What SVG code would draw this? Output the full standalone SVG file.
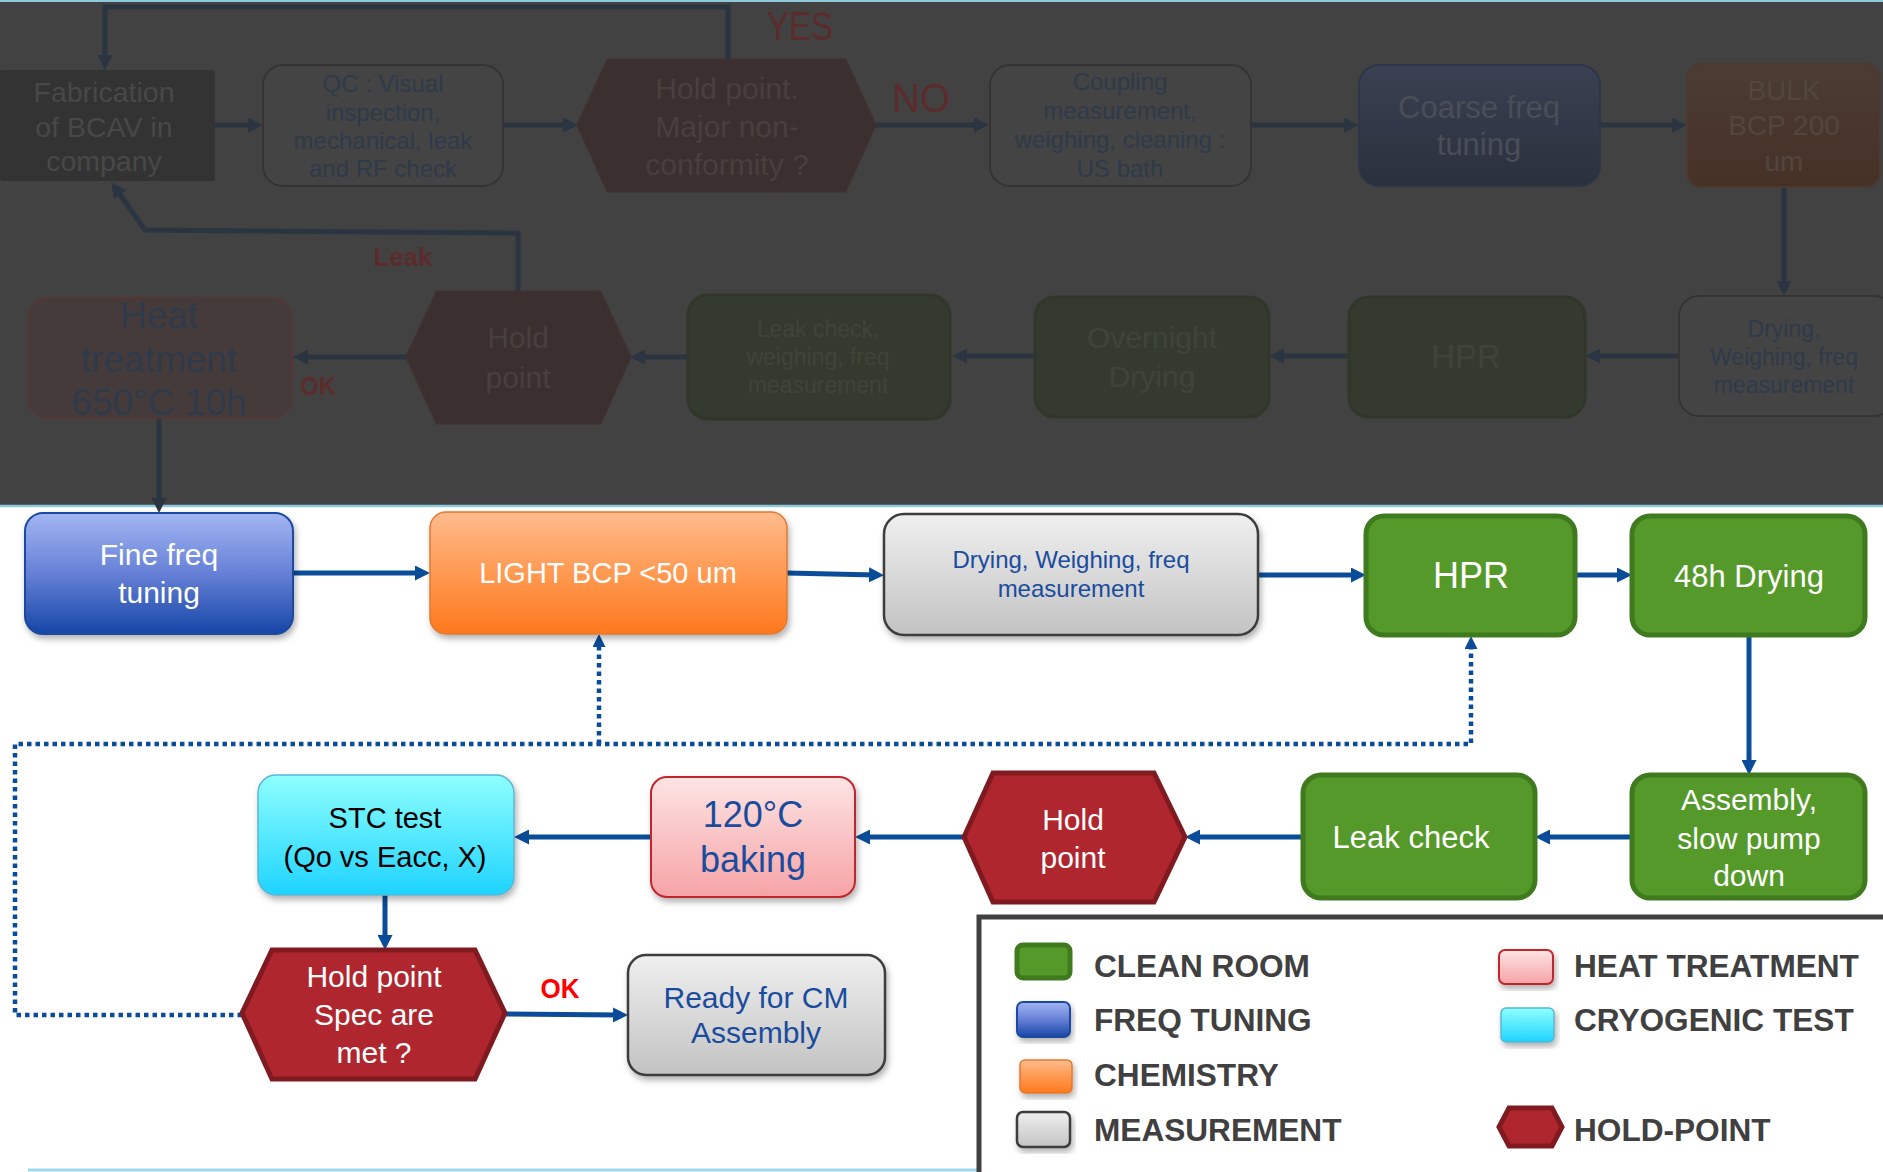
<svg xmlns="http://www.w3.org/2000/svg" width="1883" height="1172" viewBox="0 0 1883 1172">
<defs>
<style>
text{font-family:"Liberation Sans",Arial,sans-serif;text-anchor:middle}
.w{fill:#ffffff}
.db{fill:#1a4c9e}
.conn{fill:none;stroke:#0b4c99;stroke-width:5}
.dot{fill:none;stroke:#0b4c99;stroke-width:4.5;stroke-dasharray:4.5 4}
.tconn{fill:none;stroke:#2b3542;stroke-width:5}
.green{fill:#55992a;stroke:#3f7a1f;stroke-width:5}
.hex{fill:#b0262f;stroke:#801a21;stroke-width:5}
.gray{fill:url(#gGray);stroke:#3c3c3c;stroke-width:2.5}
.lg{font-weight:bold;font-size:31.6px;fill:#404040;text-anchor:start}
.tq{fill:#444444;stroke:#343434;stroke-width:2}
.tqt{fill:#2f3a4a}
.tgr{fill:#343b2e;stroke:#30372a;stroke-width:3}
.tgrt{fill:#3e4538}
.thex{fill:#3b2f2f;stroke:#3e3030;stroke-width:3}
.thext{fill:#4a3f3f}
.tred{fill:#5c2b2b}
</style>
<linearGradient id="gBlue" x1="0" y1="0" x2="0" y2="1"><stop offset="0" stop-color="#a3b6f3"/><stop offset="0.5" stop-color="#6680d6"/><stop offset="1" stop-color="#1546a6"/></linearGradient>
<linearGradient id="gOrange" x1="0" y1="0" x2="0" y2="1"><stop offset="0" stop-color="#ffbb8e"/><stop offset="0.45" stop-color="#ff9d58"/><stop offset="1" stop-color="#ff781d"/></linearGradient>
<linearGradient id="gGray" x1="0" y1="0" x2="0" y2="1"><stop offset="0" stop-color="#efefef"/><stop offset="1" stop-color="#c3c3c3"/></linearGradient>
<linearGradient id="gPink" x1="0" y1="0" x2="0" y2="1"><stop offset="0" stop-color="#fde4e4"/><stop offset="1" stop-color="#f6a3a6"/></linearGradient>
<linearGradient id="gCyan" x1="0" y1="0" x2="0" y2="1"><stop offset="0" stop-color="#8fffff"/><stop offset="1" stop-color="#1ed3ff"/></linearGradient>
<linearGradient id="gCoarse" x1="0" y1="0" x2="0" y2="1"><stop offset="0" stop-color="#3a4152"/><stop offset="1" stop-color="#2b303d"/></linearGradient>
<linearGradient id="gBulk" x1="0" y1="0" x2="0" y2="1"><stop offset="0" stop-color="#4b3c33"/><stop offset="1" stop-color="#463126"/></linearGradient>
<filter id="sh" x="-10%" y="-10%" width="120%" height="130%"><feDropShadow dx="2" dy="4" stdDeviation="3" flood-color="#000" flood-opacity="0.3"/></filter>
<marker id="ah" viewBox="0 0 15 15" markerWidth="15" markerHeight="15" refX="7" refY="7.5" orient="auto" markerUnits="userSpaceOnUse"><path d="M0,0 L15,7.5 L0,15 z" fill="#0b4c99"/></marker>
<marker id="ahs" viewBox="0 0 13 13" markerWidth="13" markerHeight="13" refX="6" refY="6.5" orient="auto" markerUnits="userSpaceOnUse"><path d="M0,0 L13,6.5 L0,13 z" fill="#0b4c99"/></marker>
<marker id="aht" viewBox="0 0 15 15" markerWidth="15" markerHeight="15" refX="7" refY="7.5" orient="auto" markerUnits="userSpaceOnUse"><path d="M0,0 L15,7.5 L0,15 z" fill="#2b3542"/></marker>
</defs>
<rect x="0" y="0" width="1883" height="1172" fill="#ffffff"/>

<!-- faded upper part -->
<g id="faded-section">
<rect x="0" y="0" width="1883" height="505" fill="#424242"/>
<line x1="0" y1="1" x2="1883" y2="1" stroke="#8ec9dc" stroke-width="2"/>
<line x1="0" y1="506" x2="1883" y2="506" stroke="#8ec9dc" stroke-width="2.5"/>

<g id="t-connectors">
<path class="tconn" d="M215,125 L255,125" marker-end="url(#aht)"/>
<path class="tconn" d="M503,125 L570,125" marker-end="url(#aht)"/>
<path class="tconn" d="M875,125 L981,125" marker-end="url(#aht)"/>
<path class="tconn" d="M1251,125 L1351,125" marker-end="url(#aht)"/>
<path class="tconn" d="M1600,125 L1679,125" marker-end="url(#aht)"/>
<path class="tconn" d="M1784,187 L1784,288" marker-end="url(#aht)"/>
<path class="tconn" d="M1679,356 L1593,356" marker-end="url(#aht)"/>
<path class="tconn" d="M1349,356 L1277,356" marker-end="url(#aht)"/>
<path class="tconn" d="M1035,356 L960,356" marker-end="url(#aht)"/>
<path class="tconn" d="M688,357 L638,357" marker-end="url(#aht)"/>
<path class="tconn" d="M407,357 L301,357" marker-end="url(#aht)"/>
<path class="tconn" d="M159,418 L159,505" marker-end="url(#aht)"/>
<path class="tconn" d="M728,60 L728,7 L105,7 L105,62" marker-end="url(#aht)"/>
<path class="tconn" d="M518,292 L518,233 L145,230 L116,189" marker-end="url(#aht)"/>
<text class="tred" x="800" y="40" font-size="40" textLength="66" lengthAdjust="spacingAndGlyphs">YES</text>
<text class="tred" x="921" y="112" font-size="40" textLength="58" lengthAdjust="spacingAndGlyphs">NO</text>
<text class="tred" x="403" y="266" font-size="26" font-weight="bold" textLength="59" lengthAdjust="spacingAndGlyphs">Leak</text>
<text class="tred" x="318" y="395" font-size="26" font-weight="bold" textLength="36" lengthAdjust="spacingAndGlyphs">OK</text>
</g>

<g id="t-fabrication">
<rect x="0" y="70" width="215" height="111" rx="3" fill="#333333"/>
<text x="104" font-size="28.5" fill="#484848"><tspan x="104" y="102">Fabrication</tspan><tspan x="104" y="137">of BCAV in</tspan><tspan x="104" y="171">company</tspan></text>
</g>
<g id="t-qc">
<rect class="tq" x="263" y="65" width="240" height="121" rx="20"/>
<text class="tqt" font-size="24"><tspan x="383" y="92">QC : Visual</tspan><tspan x="383" y="121">inspection,</tspan><tspan x="383" y="149">mechanical, leak</tspan><tspan x="383" y="177">and RF check</tspan></text>
</g>
<g id="t-hold1">
<polygon class="thex" points="578,125 608,60 845,60 875,125 845,191 608,191"/>
<text class="thext" font-size="30"><tspan x="727" y="99">Hold point.</tspan><tspan x="727" y="137">Major non-</tspan><tspan x="727" y="175">conformity ?</tspan></text>
</g>
<g id="t-coupling">
<rect class="tq" x="990" y="65" width="261" height="121" rx="20"/>
<text class="tqt" font-size="24"><tspan x="1120" y="90">Coupling</tspan><tspan x="1120" y="119">measurement,</tspan><tspan x="1120" y="148">weighing, cleaning :</tspan><tspan x="1120" y="177">US bath</tspan></text>
</g>
<g id="t-coarse">
<rect x="1359" y="65" width="241" height="121" rx="20" fill="url(#gCoarse)" stroke="#2e3546" stroke-width="2"/>
<text font-size="31" fill="#4a4e58"><tspan x="1479" y="118">Coarse freq</tspan><tspan x="1479" y="155">tuning</tspan></text>
</g>
<g id="t-bulk">
<rect x="1687" y="64" width="193" height="123" rx="14" fill="url(#gBulk)" stroke="#4a3a30" stroke-width="2"/>
<text font-size="28" fill="#52463e"><tspan x="1784" y="100">BULK</tspan><tspan x="1784" y="135">BCP 200</tspan><tspan x="1784" y="171">um</tspan></text>
</g>
<g id="t-drying">
<rect class="tq" x="1679" y="296" width="215" height="120" rx="20"/>
<text class="tqt" font-size="23"><tspan x="1784" y="337">Drying,</tspan><tspan x="1784" y="365">Weighing, freq</tspan><tspan x="1784" y="393">measurement</tspan></text>
</g>
<g id="t-hpr">
<rect class="tgr" x="1349" y="297" width="236" height="120" rx="20"/>
<text class="tgrt" x="1466" y="368" font-size="33">HPR</text>
</g>
<g id="t-overnight">
<rect class="tgr" x="1035" y="297" width="234" height="120" rx="20"/>
<text class="tgrt" font-size="30"><tspan x="1152" y="348">Overnight</tspan><tspan x="1152" y="387">Drying</tspan></text>
</g>
<g id="t-leakcheck">
<rect class="tgr" x="688" y="295" width="262" height="124" rx="20"/>
<text class="tgrt" font-size="23"><tspan x="818" y="337">Leak check,</tspan><tspan x="818" y="365">weighing, freq</tspan><tspan x="818" y="393">measurement</tspan></text>
</g>
<g id="t-hold2">
<polygon class="thex" points="407,357 437,292 600,292 630,357 600,423 437,423"/>
<text class="thext" font-size="30"><tspan x="518" y="348">Hold</tspan><tspan x="518" y="388">point</tspan></text>
</g>
<g id="t-heat">
<rect x="28" y="298" width="264" height="120" rx="20" fill="#463b3b" stroke="#553636" stroke-width="2"/>
<text class="tqt" font-size="37"><tspan x="159" y="328">Heat</tspan><tspan x="159" y="372">treatment</tspan><tspan x="159" y="415">650°C 10h</tspan></text>
</g>
</g>

<!-- connectors -->
<g id="connectors">
<path class="conn" d="M293,573 L422,573" marker-end="url(#ah)"/>
<path class="conn" d="M787,573 L876,575" marker-end="url(#ah)"/>
<path class="conn" d="M1258,575 L1358,575" marker-end="url(#ah)"/>
<path class="conn" d="M1575,575 L1624,575" marker-end="url(#ah)"/>
<path class="conn" d="M1749,635 L1749,767" stroke-width="4" marker-end="url(#ah)"/>
<path class="conn" d="M1632,837 L1543,837" marker-end="url(#ah)"/>
<path class="conn" d="M1303,837 L1193,837" marker-end="url(#ah)"/>
<path class="conn" d="M964,837 L863,837" marker-end="url(#ah)"/>
<path class="conn" d="M651,837 L522,837" marker-end="url(#ah)"/>
<path class="conn" d="M385,895 L385,942" stroke-width="4" marker-end="url(#ah)"/>
<path class="conn" d="M505,1014 L620,1015" marker-end="url(#ah)"/>
<path class="dot" d="M242,1015 L15,1015 L15,744 L1471,744 L1471,643" marker-end="url(#ahs)"/>
<path class="dot" d="M599,744 L599,641" marker-end="url(#ahs)"/>
<text x="560" y="998" font-size="27" font-weight="bold" fill="#ff0000" textLength="39" lengthAdjust="spacingAndGlyphs">OK</text>
</g>

<g id="fine-freq">
<rect x="25" y="513" width="268" height="121" rx="18" fill="url(#gBlue)" stroke="#1c4aa0" stroke-width="2" filter="url(#sh)"/>
<text class="w" font-size="30"><tspan x="159" y="565">Fine freq</tspan><tspan x="159" y="603">tuning</tspan></text>
</g>
<g id="light-bcp">
<rect x="430" y="512" width="357" height="122" rx="16" fill="url(#gOrange)" stroke="#e07a30" stroke-width="1.5" filter="url(#sh)"/>
<text class="w" x="608" y="583" font-size="29">LIGHT BCP &lt;50 um</text>
</g>
<g id="drying">
<rect class="gray" x="884" y="514" width="374" height="121" rx="20" filter="url(#sh)"/>
<text class="db" font-size="24"><tspan x="1071" y="568">Drying, Weighing, freq</tspan><tspan x="1071" y="597">measurement</tspan></text>
</g>
<g id="hpr">
<rect class="green" x="1366" y="516" width="209" height="119" rx="18"/>
<text class="w" x="1471" y="588" font-size="36">HPR</text>
</g>
<g id="drying-48h">
<rect class="green" x="1632" y="516" width="233" height="119" rx="18"/>
<text class="w" x="1749" y="587" font-size="31">48h Drying</text>
</g>
<g id="assembly">
<rect class="green" x="1632" y="775" width="233" height="123" rx="18"/>
<text class="w" font-size="30"><tspan x="1749" y="810">Assembly,</tspan><tspan x="1749" y="849">slow pump</tspan><tspan x="1749" y="886">down</tspan></text>
</g>
<g id="leak-check">
<rect class="green" x="1303" y="775" width="232" height="123" rx="18"/>
<text class="w" x="1411" y="848" font-size="31">Leak check</text>
</g>
<g id="hold-point">
<polygon class="hex" points="964,837 993,773 1154,773 1185,837 1154,902 993,902"/>
<text class="w" font-size="30"><tspan x="1073" y="830">Hold</tspan><tspan x="1073" y="868">point</tspan></text>
</g>
<g id="baking">
<rect x="651" y="777" width="204" height="120" rx="16" fill="url(#gPink)" stroke="#c0282e" stroke-width="2" filter="url(#sh)"/>
<text class="db" font-size="36"><tspan x="753" y="827">120°C</tspan><tspan x="753" y="872">baking</tspan></text>
</g>
<g id="stc-test">
<rect x="258" y="775" width="256" height="120" rx="18" fill="url(#gCyan)" stroke="#5ab6d4" stroke-width="1.5" filter="url(#sh)"/>
<text font-size="29" fill="#000000"><tspan x="385" y="828">STC test</tspan><tspan x="385" y="867">(Qo vs Eacc, X)</tspan></text>
</g>
<g id="hold-spec">
<polygon class="hex" points="242,1013 272,950 475,950 505,1013 475,1079 272,1079"/>
<text class="w" font-size="30"><tspan x="374" y="987">Hold point</tspan><tspan x="374" y="1025">Spec are</tspan><tspan x="374" y="1063">met ?</tspan></text>
</g>
<g id="ready">
<rect class="gray" x="628" y="955" width="257" height="120" rx="18" filter="url(#sh)"/>
<text class="db" font-size="30"><tspan x="756" y="1008">Ready for CM</tspan><tspan x="756" y="1043">Assembly</tspan></text>
</g>

<line x1="28" y1="1170" x2="980" y2="1170" stroke="#9dd9e8" stroke-width="3"/>

<g id="legend">
<rect x="979" y="917" width="910" height="262" fill="#ffffff" stroke="#404040" stroke-width="5"/>
<rect class="green" x="1017" y="945" width="53" height="33" rx="6" stroke-width="4"/>
<text class="lg" x="1094" y="977">CLEAN ROOM</text>
<rect x="1017" y="1002" width="53" height="35" rx="6" fill="url(#gBlue)" stroke="#1c4aa0" stroke-width="2" filter="url(#sh)"/>
<text class="lg" x="1094" y="1031">FREQ TUNING</text>
<rect x="1020" y="1060" width="52" height="33" rx="5" fill="url(#gOrange)" stroke="#e07a30" stroke-width="1.5" filter="url(#sh)"/>
<text class="lg" x="1094" y="1086">CHEMISTRY</text>
<rect class="gray" x="1017" y="1112" width="53" height="35" rx="6" stroke-width="2" filter="url(#sh)"/>
<text class="lg" x="1094" y="1141">MEASUREMENT</text>
<rect x="1499" y="950" width="54" height="34" rx="6" fill="url(#gPink)" stroke="#c0282e" stroke-width="2" filter="url(#sh)"/>
<text class="lg" x="1574" y="977">HEAT TREATMENT</text>
<rect x="1501" y="1008" width="53" height="34" rx="5" fill="url(#gCyan)" stroke="#5ab6d4" stroke-width="1.5" filter="url(#sh)"/>
<text class="lg" x="1574" y="1031">CRYOGENIC TEST</text>
<polygon class="hex" points="1499,1127 1509,1108 1552,1108 1562,1127 1552,1146 1509,1146" stroke-width="4"/>
<text class="lg" x="1574" y="1141">HOLD-POINT</text>
</g>
</svg>
